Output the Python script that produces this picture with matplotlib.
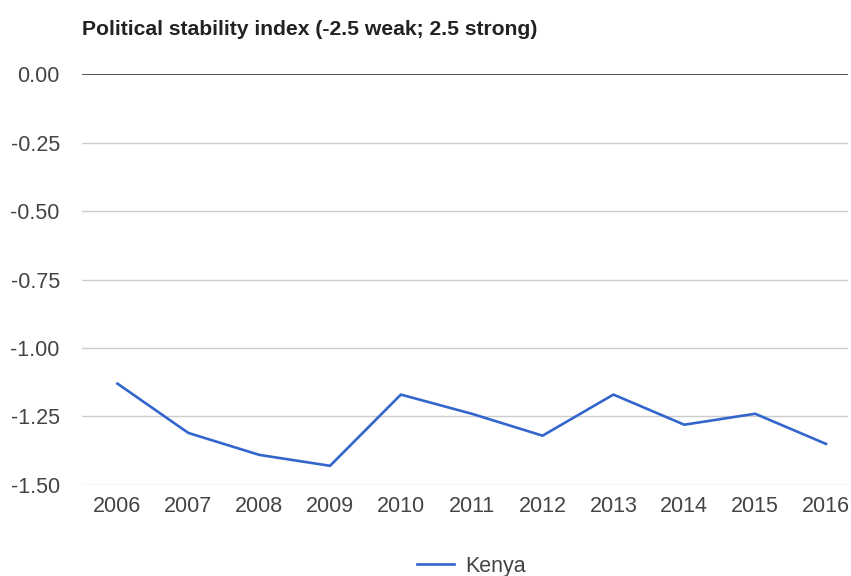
import matplotlib
matplotlib.use("Agg")
import matplotlib.pyplot as plt

years = [2006, 2007, 2008, 2009, 2010, 2011, 2012, 2013, 2014, 2015, 2016]
kenya = [-1.13, -1.31, -1.39, -1.43, -1.17, -1.24, -1.32, -1.17, -1.28, -1.24, -1.35]
yticks = [0.0, -0.25, -0.5, -0.75, -1.0, -1.25, -1.5]

plt.rcParams["font.family"] = ["Liberation Sans", "DejaVu Sans"]

fig = plt.figure(figsize=(8.51, 5.76), dpi=100)
ax = fig.add_axes([0.0964, 0.158, 0.9, 0.7135])

ax.plot(years, kenya, color="#3366cc", linewidth=1.9, label="Kenya", zorder=3)

ax.set_ylim(-1.5, 0)
ax.set_xlim(2005.5, 2016.31)
ax.set_yticks(yticks)
ax.set_yticklabels([f"{v:.2f}" for v in yticks])
ax.set_xticks(years)
ax.set_xticklabels([str(y) for y in years])
for v in yticks:
    if v == 0:
        ax.axhline(v, color="#333333", linewidth=1.2, zorder=2)
    else:
        ax.axhline(v, color="#cccccc", linewidth=1, zorder=1)

for s in ax.spines.values():
    s.set_visible(False)
ax.tick_params(length=0, labelsize=15.5, colors="#444444")
ax.tick_params(axis="y", pad=16)
ax.tick_params(axis="x", pad=8)

fig.text(0.0964, 0.939, "Political stability index (-2.5 weak; 2.5 strong)",
         fontsize=15.2, fontweight="bold", color="#222222", va="baseline")

fig.legend(loc="center", bbox_to_anchor=(0.554, 0.017), frameon=False,
           fontsize=15.5, handlelength=1.7, handletextpad=0.5,
           labelcolor="#444444")

fig.savefig("out.png", dpi=100)
